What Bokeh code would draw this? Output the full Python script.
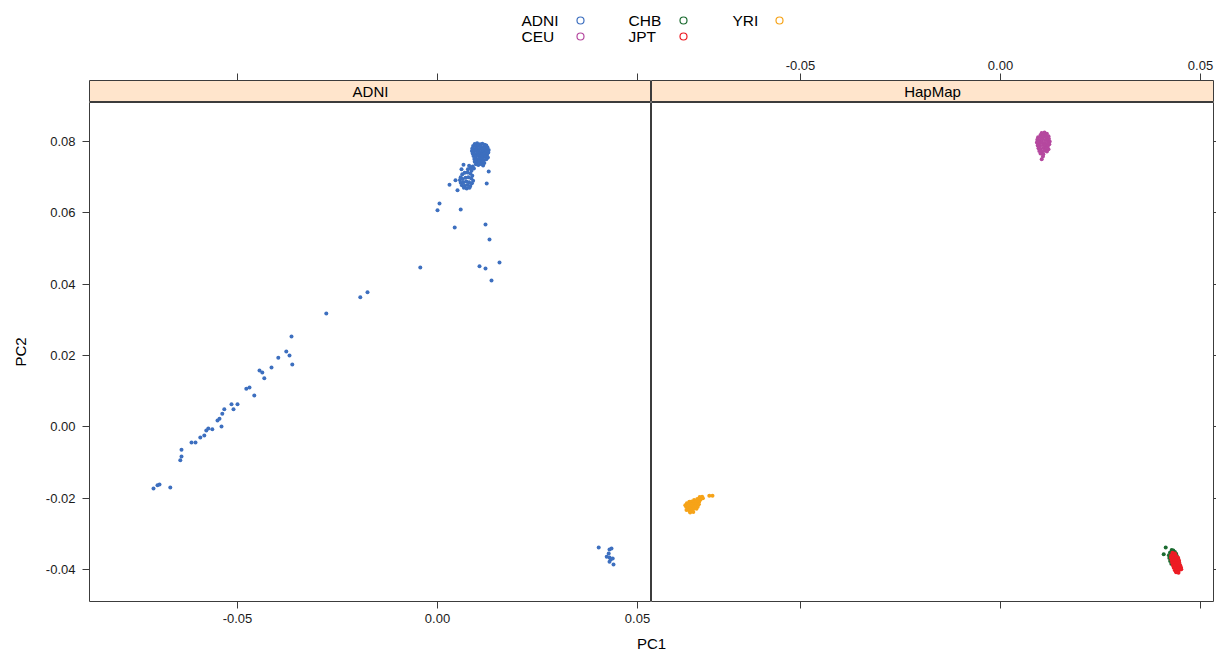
from bokeh.plotting import figure
from bokeh.models import Range1d, LinearAxis, FixedTicker, NumeralTickFormatter
from bokeh.layouts import column, row
from bokeh.core.properties import value
from bokeh.embed import file_html
from bokeh.resources import INLINE

FONT = "Liberation Sans"

groups = ["ADNI", "CEU", "CHB", "JPT", "YRI"]
colors = {"ADNI": "#3d6fbf", "CEU": "#b5489f", "CHB": "#1b6b30", "JPT": "#ed1c24", "YRI": "#f6a318"}
panels = ["ADNI", "HapMap"]

x_ticks = [-0.05, 0.0, 0.05]
y_ticks = [-0.04, -0.02, 0.0, 0.02, 0.04, 0.06, 0.08]

# ---- ADNI (left panel) ----
adni_x = [
    -0.0710, -0.0700, -0.0695, -0.0668, -0.0643, -0.0640, -0.0640, -0.0615, -0.0605, -0.0593,
    -0.0583, -0.0578, -0.0573, -0.0563, -0.0550, -0.0545, -0.0538, -0.0533, -0.0540, -0.0515,
    -0.0510, -0.0500, -0.0478, -0.0470, -0.0458, -0.0445, -0.0438, -0.0433, -0.0415, -0.0398,
    -0.0378, -0.0370, -0.0363, -0.0365, -0.0278, -0.0193, -0.0175, -0.0043, 0.0000, 0.0005,
    0.0043, 0.0058, 0.0030, 0.0045, 0.0050, 0.0065, 0.0060, 0.0128, 0.0123, 0.0120,
    0.0130, 0.0155, 0.0105, 0.0120, 0.0135,
    0.0403, 0.0430, 0.0435, 0.0428, 0.0423, 0.0430, 0.0433, 0.0438, 0.0430, 0.0440,
    0.0093, 0.0099, 0.0106, 0.0112, 0.0118, 0.0122,
    0.0089, 0.0096, 0.0102, 0.0108, 0.0114, 0.0120, 0.0125,
    0.0087, 0.0093, 0.0099, 0.0105, 0.0111, 0.0117, 0.0123, 0.0128,
    0.0086, 0.0091, 0.0097, 0.0103, 0.0109, 0.0115, 0.0121, 0.0127,
    0.0088, 0.0094, 0.0100, 0.0106, 0.0112, 0.0118, 0.0124,
    0.0090, 0.0096, 0.0102, 0.0108, 0.0114, 0.0120, 0.0126,
    0.0092, 0.0098, 0.0104, 0.0110, 0.0116, 0.0122,
    0.0093, 0.0099, 0.0105, 0.0111, 0.0117,
    0.0096, 0.0102, 0.0108, 0.0114,
    0.0088, 0.0082, 0.0076, 0.0091, 0.0079, 0.0085,
    0.0058, 0.0062, 0.0068, 0.0075, 0.0082, 0.0087, 0.0056, 0.0063, 0.0070, 0.0077,
    0.0084, 0.0089, 0.0058, 0.0065, 0.0072, 0.0079, 0.0086, 0.0061, 0.0068, 0.0075,
    0.0082, 0.0066, 0.0073, 0.0080,
]
adni_y = [
    -0.0173, -0.0164, -0.0162, -0.0170, -0.0094, -0.0083, -0.0064, -0.0044, -0.0044, -0.0030,
    -0.0024, -0.0010, -0.0005, -0.0007, 0.0018, 0.0023, 0.0037, 0.0049, 0.0001, 0.0063,
    0.0049, 0.0063, 0.0107, 0.0110, 0.0088, 0.0158, 0.0152, 0.0136, 0.0166, 0.0194,
    0.0211, 0.0200, 0.0175, 0.0253, 0.0318, 0.0363, 0.0377, 0.0447, 0.0607, 0.0626,
    0.0559, 0.0609, 0.0679, 0.0691, 0.0663, 0.0735, 0.0722, 0.0716, 0.0682, 0.0567,
    0.0525, 0.0461, 0.0450, 0.0444, 0.0410,
    -0.0338, -0.0344, -0.0341, -0.0355, -0.0364, -0.0366, -0.0372, -0.0369, -0.0378, -0.0386,
    0.0793, 0.0795, 0.0792, 0.0794, 0.0791, 0.0789,
    0.0787, 0.0785, 0.0788, 0.0786, 0.0784, 0.0786, 0.0783,
    0.0780, 0.0778, 0.0781, 0.0779, 0.0777, 0.0780, 0.0778, 0.0776,
    0.0773, 0.0771, 0.0774, 0.0772, 0.0770, 0.0773, 0.0771, 0.0769,
    0.0766, 0.0764, 0.0767, 0.0765, 0.0763, 0.0766, 0.0763,
    0.0759, 0.0757, 0.0760, 0.0758, 0.0756, 0.0758, 0.0755,
    0.0751, 0.0749, 0.0752, 0.0750, 0.0748, 0.0750,
    0.0743, 0.0741, 0.0744, 0.0742, 0.0740,
    0.0736, 0.0734, 0.0737, 0.0733,
    0.0730, 0.0726, 0.0722, 0.0724, 0.0732, 0.0718,
    0.0700, 0.0708, 0.0712, 0.0713, 0.0710, 0.0704, 0.0692, 0.0695, 0.0698, 0.0700,
    0.0697, 0.0690, 0.0684, 0.0686, 0.0688, 0.0686, 0.0683, 0.0677, 0.0676, 0.0678,
    0.0675, 0.0670, 0.0668, 0.0670,
]

# ---- HapMap (right panel) ----
ceu_x = [0.0103, 0.0110, 0.0116, 0.0100, 0.0107, 0.0114, 0.0120, 0.0094, 0.0101, 0.0108,
         0.0115, 0.0121, 0.0092, 0.0098, 0.0105, 0.0112, 0.0118, 0.0123, 0.0091, 0.0097,
         0.0104, 0.0110, 0.0117, 0.0122, 0.0093, 0.0099, 0.0106, 0.0112, 0.0118, 0.0095,
         0.0101, 0.0108, 0.0114, 0.0120, 0.0097, 0.0104, 0.0110, 0.0116, 0.0100, 0.0107,
         0.0106, 0.0103]
ceu_y = [0.0824, 0.0825, 0.0822, 0.0818, 0.0819, 0.0817, 0.0815, 0.0812, 0.0811, 0.0813,
         0.0810, 0.0808, 0.0805, 0.0803, 0.0806, 0.0804, 0.0802, 0.0800, 0.0797, 0.0795,
         0.0798, 0.0796, 0.0794, 0.0792, 0.0789, 0.0787, 0.0790, 0.0788, 0.0786, 0.0781,
         0.0779, 0.0782, 0.0780, 0.0778, 0.0773, 0.0771, 0.0774, 0.0772, 0.0766, 0.0764,
         0.0758, 0.0750]

chb_x = [0.0413, 0.0408, 0.0428, 0.0432, 0.0424, 0.0436, 0.0421, 0.0439, 0.0422, 0.0441,
         0.0424, 0.0444, 0.0427, 0.0446, 0.0433, 0.0448, 0.0438, 0.0449, 0.0430, 0.0444]
chb_y = [-0.0338, -0.0357, -0.0345, -0.0347, -0.0352, -0.0351, -0.0360, -0.0356, -0.0368, -0.0362,
         -0.0376, -0.0370, -0.0384, -0.0380, -0.0392, -0.0388, -0.0398, -0.0396, -0.0356, -0.0403]

jpt_x = [0.0430, 0.0436, 0.0427, 0.0433, 0.0439, 0.0426, 0.0432, 0.0438, 0.0444, 0.0428,
         0.0434, 0.0440, 0.0446, 0.0429, 0.0435, 0.0441, 0.0447, 0.0431, 0.0437, 0.0443,
         0.0449, 0.0433, 0.0439, 0.0445, 0.0451, 0.0436, 0.0442, 0.0448, 0.0439, 0.0445,
         0.0452]
jpt_y = [-0.0353, -0.0355, -0.0360, -0.0361, -0.0362, -0.0367, -0.0368, -0.0369, -0.0367, -0.0374,
         -0.0375, -0.0376, -0.0374, -0.0381, -0.0382, -0.0383, -0.0381, -0.0388, -0.0389, -0.0390,
         -0.0388, -0.0395, -0.0396, -0.0397, -0.0394, -0.0402, -0.0403, -0.0401, -0.0408, -0.0409,
         -0.0399]

yri_x = [-0.0752, -0.0746, -0.0744, -0.0758, -0.0750, -0.0766, -0.0760, -0.0753, -0.0772, -0.0778,
         -0.0765, -0.0757, -0.0784, -0.0776, -0.0769, -0.0761, -0.0754, -0.0788, -0.0786, -0.0779,
         -0.0772, -0.0764, -0.0757, -0.0782, -0.0775, -0.0767, -0.0760, -0.0785, -0.0778, -0.0770,
         -0.0776, -0.0768, -0.0728, -0.0720]
yri_y = [-0.0197, -0.0196, -0.0200, -0.0202, -0.0204, -0.0205, -0.0207, -0.0209, -0.0209, -0.0210,
         -0.0212, -0.0213, -0.0214, -0.0216, -0.0217, -0.0218, -0.0217, -0.0220, -0.0224, -0.0222,
         -0.0224, -0.0223, -0.0224, -0.0229, -0.0230, -0.0229, -0.0230, -0.0233, -0.0235, -0.0236,
         -0.0240, -0.0239, -0.0193, -0.0193]

panel_data = {
    "ADNI": [("ADNI", adni_x, adni_y)],
    "HapMap": [("CEU", ceu_x, ceu_y), ("CHB", chb_x, chb_y), ("JPT", jpt_x, jpt_y), ("YRI", yri_x, yri_y)],
}

X_RANGES = {"ADNI": (-0.0870, 0.0535), "HapMap": (-0.08725, 0.05325)}
Y_RANGE = (-0.04897, 0.09093)
FRAME_W, FRAME_H, STRIP_H = 562, 499, 22
LEFT_B, RIGHT_B = 89, 3
LINE = "#3c3c3c"
STRIP = "#ffe5cc"


def style_axis(ax, labels, standoff=5):
    ax.axis_line_color = None
    ax.major_tick_line_color = LINE
    ax.major_tick_in = 0
    ax.major_tick_out = 7
    ax.minor_tick_line_color = None
    ax.formatter = NumeralTickFormatter(format="0.00")
    ax.major_label_text_font = FONT
    if labels:
        ax.major_label_text_font_size = "13px"
        ax.major_label_text_color = "#1a1a1a"
        ax.major_label_standoff = standoff
    else:
        ax.major_label_text_font_size = "1px"
        ax.major_label_text_color = None
        ax.major_label_standoff = 0


def bare(p):
    p.xgrid.grid_line_color = None
    p.ygrid.grid_line_color = None
    p.outline_line_color = LINE
    p.outline_line_width = 1


def make_strip(name, left, xr):
    s = figure(frame_width=FRAME_W, frame_height=STRIP_H, x_range=xr, y_range=Range1d(0, 1),
               x_axis_location=None, y_axis_location=None, toolbar_location=None,
               output_backend="svg", title=None,
               min_border_left=LEFT_B if left else 0, min_border_right=0 if left else RIGHT_B,
               min_border_top=32, min_border_bottom=0)
    bare(s)
    s.background_fill_color = STRIP
    top = LinearAxis(ticker=FixedTicker(ticks=x_ticks))
    style_axis(top, labels=not left, standoff=4)
    s.add_layout(top, "above")
    s.text(x=[(xr.start + xr.end) / 2], y=[0.5], text=[name], text_font=value(FONT),
           text_font_size="15px", text_align="center", text_baseline="middle", text_color="#000000")
    return s


def make_panel(name, left, xr):
    p = figure(frame_width=FRAME_W, frame_height=FRAME_H,
               x_range=xr, y_range=Range1d(*Y_RANGE),
               x_axis_location=None, y_axis_location=None,
               toolbar_location=None, output_backend="svg", title=None,
               min_border_left=LEFT_B if left else 0, min_border_right=0 if left else RIGHT_B,
               min_border_top=0, min_border_bottom=29)
    bare(p)
    p.background_fill_color = "white"

    bottom = LinearAxis(ticker=FixedTicker(ticks=x_ticks))
    style_axis(bottom, labels=left, standoff=5)
    p.add_layout(bottom, "below")
    if left:
        yax = LinearAxis(ticker=FixedTicker(ticks=y_ticks), axis_label="PC2")
        style_axis(yax, labels=True, standoff=7)
        yax.axis_label_text_font = FONT
        yax.axis_label_text_font_size = "15px"
        yax.axis_label_text_font_style = "normal"
        yax.axis_label_text_color = "#000000"
        yax.axis_label_standoff = 14
        p.add_layout(yax, "left")
    else:
        yax = LinearAxis(ticker=FixedTicker(ticks=y_ticks))
        style_axis(yax, labels=False)
        yax.major_tick_out = 3
        p.add_layout(yax, "right")

    for g, xs, ys in panel_data[name]:
        p.scatter(xs, ys, size=4.0, marker="circle", fill_color=colors[g], line_color=None)
    return p


cols = []
for i, name in enumerate(panels):
    xr = Range1d(*X_RANGES[name])
    left = i == 0
    cols.append(column(make_strip(name, left, xr), make_panel(name, left, xr)))

# ---- legend (key) on top ----
key = figure(width=1216, height=48, x_range=Range1d(0, 1216), y_range=Range1d(48, 0),
             x_axis_location=None, y_axis_location=None, toolbar_location=None,
             output_backend="svg", title=None, min_border=0, outline_line_color=None)
key.xgrid.grid_line_color = None
key.ygrid.grid_line_color = None
key_text_x = [521, 521, 628, 628, 732]
key_pt_x = [580, 580, 683, 683, 779]
key_y = [20, 36, 20, 36, 20]
key.text(x=key_text_x, y=key_y, text=groups, text_font=value(FONT), text_font_size="15.5px",
         text_align="left", text_baseline="middle", text_color="#000000")
key.scatter(x=key_pt_x, y=key_y, size=7, marker="circle", fill_color=None,
            line_color=[colors[g] for g in groups], line_width=1.2)

# ---- x label ----
xl = figure(width=1216, height=23, x_range=Range1d(0, 1216), y_range=Range1d(23, 0),
            x_axis_location=None, y_axis_location=None, toolbar_location=None,
            output_backend="svg", title=None, min_border=0, outline_line_color=None)
xl.xgrid.grid_line_color = None
xl.ygrid.grid_line_color = None
xl.text(x=[LEFT_B + FRAME_W], y=[13], text=["PC1"], text_font=value(FONT), text_font_size="15px",
        text_align="center", text_baseline="middle", text_color="#000000")

layout = column(key, row(*cols), xl)
open("out.html", "w").write(file_html(layout, INLINE))
